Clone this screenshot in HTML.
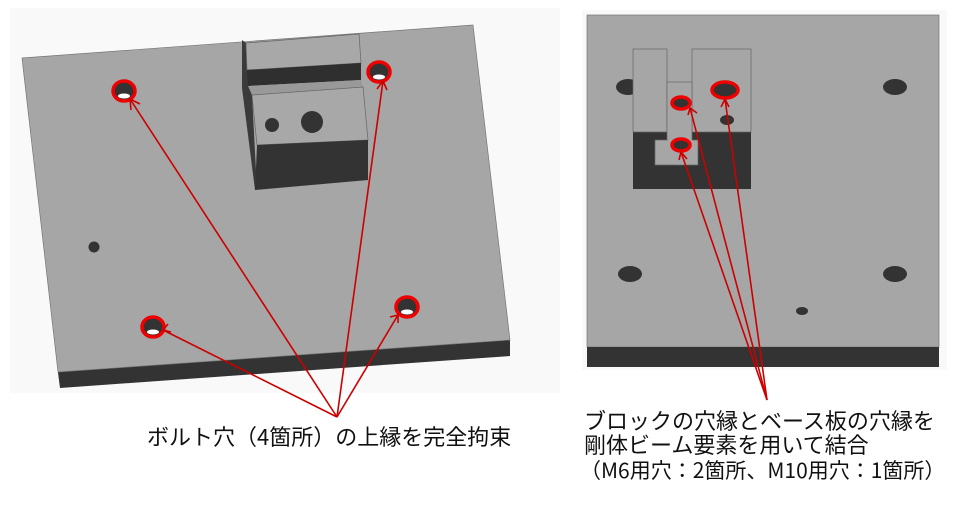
<!DOCTYPE html>
<html><head><meta charset="utf-8"><style>
html,body{margin:0;padding:0;background:#fff;}
.t{font-family:"Noto Sans CJK JP",sans-serif;color:#111;position:absolute;white-space:nowrap;}
</style></head><body>
<div style="position:relative;width:960px;height:505px;overflow:hidden;">
<svg width="960" height="505" style="position:absolute;left:0;top:0">
<rect x="10" y="8" width="550" height="385" fill="#f9f9f9"/>
<rect x="582" y="10" width="365" height="360" fill="#f9f9f9"/>
<polygon points="22,58 58,372 60,387 27,60" fill="#555"/>
<polygon points="58,372 510,340 510,356 60,388" fill="#333"/>
<polygon points="22,58 473,25 510,340 58,372" fill="#a6a6a6" stroke="#777" stroke-width="0.7"/>
<polygon points="242,40 246,43 252,95 257,190 255,190 242,88" fill="#3a3a3a"/>
<polygon points="246,43 359,34 361,63 247,70" fill="#a8a8a8" stroke="#666" stroke-width="0.7"/>
<polygon points="247,70 361,63 361,80 248,86" fill="#2f2f2f"/>
<polygon points="248,86 361,80 363,87 252,95" fill="#999"/>
<polygon points="252,95 363,87 368,140 257,145" fill="#a8a8a8" stroke="#666" stroke-width="0.7"/>
<polygon points="257,145 368,140 368,180 255,190" fill="#333"/>
<circle cx="272" cy="125" r="7" fill="#333"/>
<circle cx="312" cy="122" r="11" fill="#333"/>
<circle cx="94" cy="247" r="5.5" fill="#333"/>
<g fill="#333" stroke="#e00" stroke-width="3.5">
<ellipse cx="124" cy="91" rx="11" ry="10"/>
<ellipse cx="379" cy="72" rx="11" ry="10"/>
<ellipse cx="153" cy="327" rx="11" ry="10"/>
<ellipse cx="407" cy="307" rx="11" ry="10"/>
</g>
<g fill="#fff"><ellipse cx="124" cy="96" rx="6" ry="2.5"/><ellipse cx="379" cy="77" rx="6" ry="2.5"/><ellipse cx="153" cy="332" rx="6" ry="2.5"/><ellipse cx="407" cy="312" rx="6" ry="2.5"/></g>
<g stroke="#c00" stroke-width="1.6" fill="none">
<line x1="337" y1="417" x2="130" y2="99"/><polyline points="131,110 130,99 140,104"/>
<line x1="337" y1="417" x2="383" y2="81"/><polyline points="377,89 383,81 387,90"/>
<line x1="337" y1="417" x2="163" y2="330"/><polyline points="168,324 163,330 171,332"/>
<line x1="337" y1="417" x2="398" y2="315"/><polyline points="390,317 398,315 398,323"/>
</g>
<rect x="587" y="15" width="352" height="332" fill="#a6a6a6" stroke="#777" stroke-width="0.7"/>
<rect x="587" y="347" width="352" height="20" fill="#333"/>
<g fill="#333">
<ellipse cx="628" cy="87" rx="12" ry="8"/><ellipse cx="895" cy="87" rx="12" ry="8"/>
<ellipse cx="630" cy="274" rx="12" ry="8"/><ellipse cx="895" cy="274" rx="12" ry="8"/>
<ellipse cx="802" cy="311" rx="6" ry="4"/>
</g>
<rect x="633" y="132" width="118" height="57" fill="#333"/>
<rect x="633" y="49" width="34" height="83" fill="#a6a6a6" stroke="#666" stroke-width="0.7"/>
<rect x="692" y="49" width="59" height="83" fill="#a6a6a6" stroke="#666" stroke-width="0.7"/>
<rect x="667" y="82" width="25" height="58" fill="#a6a6a6" stroke="#666" stroke-width="0.7"/>
<rect x="655" y="140" width="43" height="25" fill="#a6a6a6" stroke="#666" stroke-width="0.7"/>
<rect x="667.5" y="132" width="24" height="9" fill="#a6a6a6"/>
<ellipse cx="727" cy="120" rx="7" ry="5" fill="#333"/>
<g fill="#333" stroke="#e00" stroke-width="3.5">
<ellipse cx="681" cy="103" rx="9" ry="6"/>
<ellipse cx="725" cy="90" rx="13" ry="8"/>
<ellipse cx="681" cy="145" rx="9" ry="6"/>
</g>
<g stroke="#c00" stroke-width="1.6" fill="none">
<line x1="767" y1="400" x2="690" y2="108"/><polyline points="688,115 690,108 697,113"/>
<line x1="767" y1="400" x2="725" y2="99"/><polyline points="721,107 725,99 729,107"/>
<line x1="767" y1="400" x2="681" y2="152"/><polyline points="679,160 681,152 687,159"/>
</g>
</svg>
<div class="t" style="left:147px;top:421px;font-size:22px;line-height:30px;">ボルト穴（4箇所）の上縁を完全拘束</div>
<div class="t" style="left:584px;top:408px;font-size:22px;line-height:24px;">ブロックの穴縁とベース板の穴縁を<br>剛体ビーム要素を用いて結合</div>
<div class="t" style="left:580px;top:457px;font-size:21px;line-height:26px;">（M6用穴：2箇所、M10用穴：1箇所）</div>
</div>
</body></html>
